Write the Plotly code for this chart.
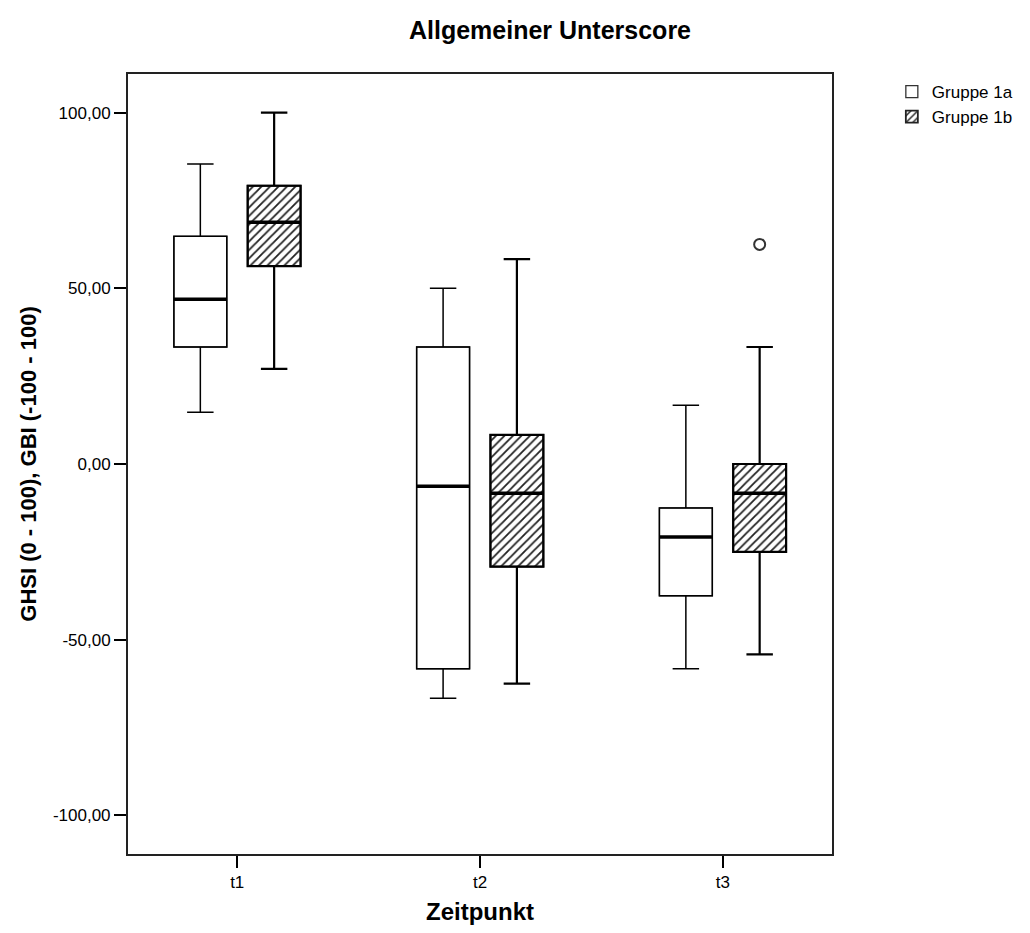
import plotly.graph_objects as go

# ---- data ----
timepoints = ["t1", "t2", "t3"]
groups = ["Gruppe 1a", "Gruppe 1b"]

g1a_lower = [14.7, -66.7, -58.3]
g1a_q1 = [33.3, -58.3, -37.5]
g1a_median = [46.9, -6.3, -20.8]
g1a_q3 = [64.8, 33.3, -12.5]
g1a_upper = [85.4, 50.0, 16.7]

g1b_lower = [27.1, -62.5, -54.2]
g1b_q1 = [56.3, -29.2, -25.0]
g1b_median = [68.8, -8.3, -8.3]
g1b_q3 = [79.2, 8.3, 0.0]
g1b_upper = [100.0, 58.3, 33.3]

outlier_tp = [2]          # index of timepoint (t3), group 1b
outlier_val = [62.5]

y_ticks = [-100, -50, 0, 50, 100]
y_tick_labels = ["-100,00", "-50,00", "0,00", "50,00", "100,00"]

# ---- layout constants ----
offset = 0.152
box_w = 0.218
font = "Liberation Sans, Arial, sans-serif"

cat = list(range(len(timepoints)))
pos_a = [c - offset for c in cat]
pos_b = [c + offset for c in cat]

fig = go.Figure()

# box fills (bars from q1 to q3)
fig.add_trace(go.Bar(
    x=pos_a, y=[h - l for h, l in zip(g1a_q3, g1a_q1)], base=g1a_q1, width=box_w,
    marker=dict(color="white", line=dict(color="#333333", width=1.3)),
    name=groups[0], showlegend=True, hoverinfo="skip"))
fig.add_trace(go.Bar(
    x=pos_b, y=[h - l for h, l in zip(g1b_q3, g1b_q1)], base=g1b_q1, width=box_w,
    marker=dict(color="white", line=dict(color="#222222", width=1.8),
                pattern=dict(shape="/", fgcolor="#222222", bgcolor="white",
                             size=6, solidity=0.3, fillmode="replace")),
    name=groups[1], showlegend=True, hoverinfo="skip"))

# box outlines and whiskers
fig.add_trace(go.Box(
    x=pos_a, q1=g1a_q1, median=g1a_median, q3=g1a_q3,
    lowerfence=g1a_lower, upperfence=g1a_upper, width=box_w,
    fillcolor="rgba(0,0,0,0)", line=dict(color="black", width=1.5),
    whiskerwidth=0.5, boxpoints=False, showlegend=False, hoverinfo="skip"))
fig.add_trace(go.Box(
    x=pos_b, q1=g1b_q1, median=g1b_median, q3=g1b_q3,
    lowerfence=g1b_lower, upperfence=g1b_upper, width=box_w,
    fillcolor="rgba(0,0,0,0)", line=dict(color="black", width=2.2),
    whiskerwidth=0.5, boxpoints=False, showlegend=False, hoverinfo="skip"))

# thick median lines
def median_lines(pos, med):
    xs, ys = [], []
    for p, m in zip(pos, med):
        xs += [p - box_w / 2, p + box_w / 2, None]
        ys += [m, m, None]
    return xs, ys

for pos, med in [(pos_a, g1a_median), (pos_b, g1b_median)]:
    mx, my = median_lines(pos, med)
    fig.add_trace(go.Scatter(x=mx, y=my, mode="lines",
                             line=dict(color="black", width=3.5),
                             showlegend=False, hoverinfo="skip"))

# outlier
fig.add_trace(go.Scatter(
    x=[pos_b[i] for i in outlier_tp], y=outlier_val, mode="markers",
    marker=dict(symbol="circle-open", size=11, color="#333333",
                line=dict(width=2, color="#333333")),
    showlegend=False, hoverinfo="skip"))

fig.update_layout(
    width=1030, height=933,
    margin=dict(l=128, r=195, t=74, b=77),
    paper_bgcolor="white", plot_bgcolor="white",
    barmode="overlay",
    font=dict(family=font, color="black", size=17),
    title=dict(text="<b>Allgemeiner Unterscore</b>", x=0.534, xanchor="center",
               y=1 - 30 / 933, yanchor="middle", yref="container",
               font=dict(size=25, family=font, color="black")),
    legend=dict(x=1.085, xanchor="left", y=1.0, yanchor="top",
                font=dict(size=17, family=font), tracegroupgap=0,
                itemwidth=30, bgcolor="rgba(0,0,0,0)"),
    xaxis=dict(range=[-0.45, 2.45], tickmode="array", tickvals=cat,
               ticktext=timepoints, ticks="outside", ticklen=12, tickwidth=1.5,
               tickcolor="black", showline=True, linecolor="#222222", linewidth=2,
               mirror=True, showgrid=False, zeroline=False,
               tickfont=dict(size=17, family=font),
               title=dict(text="<b>Zeitpunkt</b>", standoff=12,
                          font=dict(size=24, family=font))),
    yaxis=dict(range=[-111, 111], tickmode="array", tickvals=y_ticks,
               ticktext=y_tick_labels, ticks="outside", ticklen=12, tickwidth=1.5,
               tickcolor="black", showline=True, linecolor="#222222", linewidth=2,
               mirror=True, showgrid=False, zeroline=False,
               tickfont=dict(size=17, family=font),
               title=dict(text="<b>GHSI (0 - 100), GBI (-100 - 100)</b>", standoff=10,
                          font=dict(size=22, family=font))),
)

fig.write_html("out.html")
